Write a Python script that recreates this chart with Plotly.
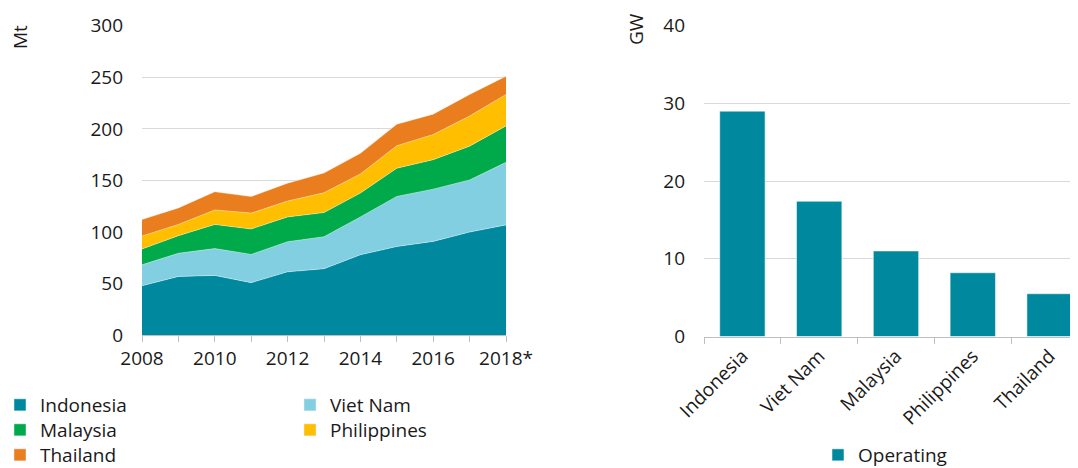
import plotly.graph_objects as go

years = [2008, 2009, 2010, 2011, 2012, 2013, 2014, 2015, 2016, 2017, 2018]
year_labels = ["2008", "", "2010", "", "2012", "", "2014", "", "2016", "", "2018*"]

indonesia = [48, 57, 58, 51, 61.5, 64.5, 78, 86, 91, 100, 107]
viet_nam = [20.3, 22.5, 26, 27.4, 29.2, 31, 36.7, 48.6, 50.6, 50.6, 60.6]
malaysia = [15.3, 17, 23.4, 24.6, 24, 23.4, 23.1, 27.3, 28.6, 32.7, 35.3]
philippines = [12.6, 10.9, 14.1, 15.4, 15.4, 19.2, 18.6, 21.8, 24.3, 29.2, 30.4]
thailand = [16, 16, 17.6, 16, 17.3, 19.2, 19.9, 20.8, 19.8, 20.8, 17.7]

countries = ["Indonesia", "Viet Nam", "Malaysia", "Philippines", "Thailand"]
operating_gw = [29.0, 17.4, 11.0, 8.2, 5.5]

colors = {
    "Indonesia": "#00889E",
    "Viet Nam": "#82CFE2",
    "Malaysia": "#00A94A",
    "Philippines": "#FFBE00",
    "Thailand": "#EA7E1E",
}

# the page body adds an 8px offset; the figure is sized to fit the window
OFF = 8
W, H = 1078 - OFF, 468 - OFF
FONT = "Open Sans"
TXT = "#1a1a1a"
FS = 19


def px_x(p):
    return (p - OFF) / W


def px_y(p):
    return 1 - (p - OFF) / H


fig = go.Figure()

series = [("Indonesia", indonesia), ("Viet Nam", viet_nam), ("Malaysia", malaysia),
          ("Philippines", philippines), ("Thailand", thailand)]
for name, vals in series:
    fig.add_trace(go.Scatter(
        x=years, y=vals, name=name, stackgroup="one", mode="lines",
        line=dict(width=0.8, color="rgba(255,255,255,0.45)"),
        fillcolor=colors[name], showlegend=False, hoverinfo="x+y+name",
        xaxis="x", yaxis="y",
    ))

# legend entries (square icons), one legend per entry for exact placement
legend_pos = {
    "Indonesia": ("legend", 0, 405),
    "Viet Nam": ("legend2", 290, 405),
    "Malaysia": ("legend3", 0, 430),
    "Philippines": ("legend4", 290, 430),
    "Thailand": ("legend5", 0, 455),
}
for name in countries:
    fig.add_trace(go.Bar(
        x=[None], y=[None], name=name, marker=dict(color=colors[name]),
        legend=legend_pos[name][0], xaxis="x", yaxis="y", showlegend=True,
    ))

fig.add_trace(go.Bar(
    x=countries, y=operating_gw, name="Operating",
    marker=dict(color="#00889E", line=dict(width=1, color="rgba(255,255,255,0.5)")),
    width=0.59, xaxis="x2", yaxis="y2", legend="legend6",
))

axis_common = dict(
    showgrid=False, zeroline=False, showline=True, linecolor="#bfbfbf", linewidth=1,
    ticks="outside", tickcolor="#bfbfbf", ticklen=6,
    tickfont=dict(family=FONT, size=FS, color=TXT),
)
yaxis_common = dict(
    showgrid=True, gridcolor="#d9d9d9", gridwidth=1, zeroline=False, showline=False,
    ticks="", tickfont=dict(family=FONT, size=FS, color=TXT), ticklabelstandoff=18,
)

legend_common = dict(
    orientation="v", xanchor="left", yanchor="middle", bgcolor="rgba(0,0,0,0)",
    font=dict(family=FONT, size=FS, color=TXT), tracegroupgap=0,
    traceorder="normal", itemclick=False, itemdoubleclick=False,
)

legends = {}
for name, (key, lx, ly) in legend_pos.items():
    legends[key] = dict(x=px_x(lx), y=px_y(ly), **legend_common)
legends["legend6"] = dict(x=px_x(818), y=px_y(455), **legend_common)

fig.update_layout(
    width=W, height=H,
    margin=dict(l=0, r=0, t=0, b=0, autoexpand=False),
    paper_bgcolor="white", plot_bgcolor="white",
    font=dict(family=FONT, size=FS, color=TXT),
    barmode="overlay",
    xaxis=dict(
        domain=[px_x(142), px_x(506)], range=[2008, 2018],
        tickmode="array", tickvals=years, ticktext=year_labels,
        anchor="y", **axis_common,
    ),
    yaxis=dict(
        domain=[px_y(335.3), px_y(25.7)], range=[0, 300], dtick=50,
        anchor="x", **yaxis_common,
    ),
    xaxis2=dict(
        domain=[px_x(704), 1.0], range=[-0.5, 4.37], type="category",
        tickson="boundaries", tickangle=-45, anchor="y2", **axis_common,
    ),
    yaxis2=dict(
        domain=[px_y(336.5), px_y(25.7)], range=[0, 40], dtick=10,
        anchor="x2", **yaxis_common,
    ),
    annotations=[
        dict(text="Mt", x=px_x(20), y=px_y(37), xref="paper", yref="paper",
             xanchor="center", yanchor="middle",
             showarrow=False, textangle=-90, font=dict(family=FONT, size=FS, color=TXT)),
        dict(text="GW", x=px_x(636), y=px_y(29), xref="paper", yref="paper",
             xanchor="center", yanchor="middle",
             showarrow=False, textangle=-90, font=dict(family=FONT, size=FS, color=TXT)),
    ],
    **legends,
)

fig.write_html("out.html")
